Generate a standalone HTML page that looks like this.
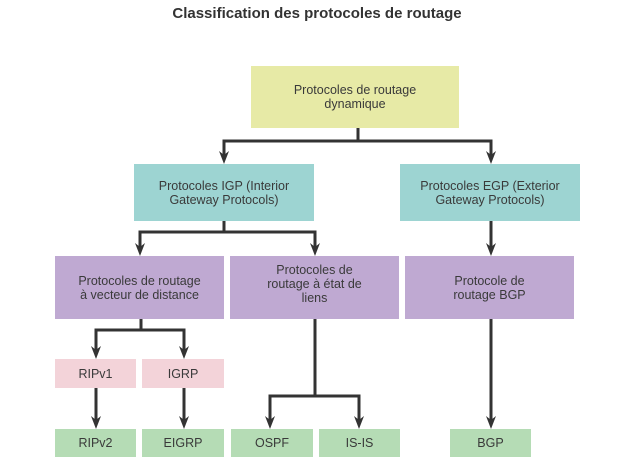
<!DOCTYPE html>
<html><head><meta charset="utf-8"><style>
body{margin:0;width:634px;height:476px;background:#fff;position:relative;font-family:"Liberation Sans",sans-serif;overflow:hidden}
.t{position:absolute;left:0;width:634px;top:5px;text-align:center;font-weight:bold;font-size:15px;color:#333}
.b{position:absolute;display:flex;align-items:center;justify-content:center;text-align:center;font-size:12.5px;line-height:14px;color:#3a3a3a;box-sizing:border-box}
.y{background:#e7eaa6}.c{background:#9dd4d2}.p{background:#bfa9d2}.k{background:#f3d3d9}.g{background:#b5dcb5}
svg{position:absolute;left:0;top:0}
</style></head><body>
<div class="t">Classification des protocoles de routage</div>
<div class="b y" style="left:251px;top:66px;width:208px;height:62px">Protocoles de routage<br>dynamique</div>
<div class="b c" style="left:134px;top:164px;width:180px;height:57px">Protocoles IGP (Interior<br>Gateway Protocols)</div>
<div class="b c" style="left:400px;top:164px;width:180px;height:57px">Protocoles EGP (Exterior<br>Gateway Protocols)</div>
<div class="b p" style="left:55px;top:256px;width:169px;height:63px">Protocoles de routage<br>à vecteur de distance</div>
<div class="b p" style="left:230px;top:256px;width:169px;height:63px;padding-bottom:8px">Protocoles de<br>routage à état de<br>liens</div>
<div class="b p" style="left:405px;top:256px;width:169px;height:63px">Protocole de<br>routage BGP</div>
<div class="b k" style="left:55px;top:359px;width:81px;height:29px">RIPv1</div>
<div class="b k" style="left:142px;top:359px;width:82px;height:29px">IGRP</div>
<div class="b g" style="left:55px;top:429px;width:81px;height:28px">RIPv2</div>
<div class="b g" style="left:142px;top:429px;width:82px;height:28px">EIGRP</div>
<div class="b g" style="left:231px;top:429px;width:82px;height:28px">OSPF</div>
<div class="b g" style="left:319px;top:429px;width:81px;height:28px">IS-IS</div>
<div class="b g" style="left:450px;top:429px;width:81px;height:28px">BGP</div>
<svg width="634" height="476">
<g stroke="#333" stroke-width="3" fill="none">
<path d="M358,128 V141 M222.5,141 H492.5"/>
<path d="M224,141 V155 M491,141 V155"/>
<path d="M224,221 V232 M138.5,232 H316.5"/>
<path d="M140,232 V247 M315,232 V247"/>
<path d="M491,221 V247"/>
<path d="M141,319 V330 M94.5,330 H185.5"/>
<path d="M96,330 V350 M184,330 V350"/>
<path d="M96,388 V420 M184,388 V420"/>
<path d="M315,319 V396 M268.5,396 H360.5"/>
<path d="M270,396 V420 M359,396 V420"/>
<path d="M491,319 V420"/>
</g>
<g fill="#333">
<polygon points="219,151 224,155 229,151 224,164"/>
<polygon points="486,151 491,155 496,151 491,164"/>
<polygon points="135,243 140,247 145,243 140,256"/>
<polygon points="310,243 315,247 320,243 315,256"/>
<polygon points="486,243 491,247 496,243 491,256"/>
<polygon points="91,346 96,350 101,346 96,359"/>
<polygon points="179,346 184,350 189,346 184,359"/>
<polygon points="91,416 96,420 101,416 96,429"/>
<polygon points="179,416 184,420 189,416 184,429"/>
<polygon points="265,416 270,420 275,416 270,429"/>
<polygon points="354,416 359,420 364,416 359,429"/>
<polygon points="486,416 491,420 496,416 491,429"/>
</g></svg>
</body></html>
